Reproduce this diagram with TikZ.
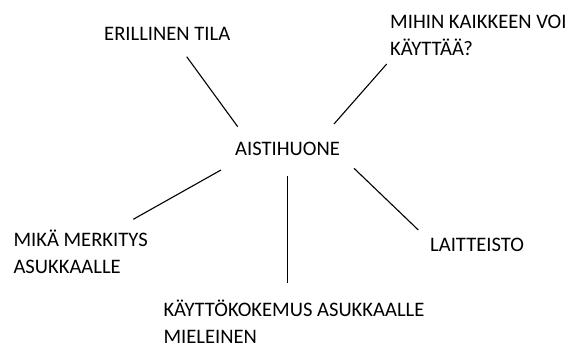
\documentclass[tikz,border=0pt]{standalone}
\usepackage{fontspec}
\setmainfont{Carlito}
\begin{document}
\begin{tikzpicture}[x=1pt,y=-1pt] % оси в пикселях, y вниз
\tikzstyle{mytext} = [inner sep=0pt, anchor=base west, align=left, font=\fontsize{20.6}{26.8}\selectfont] % text style, base = last line
\tikzstyle{myline} = [line width=1.1pt] % connector style
\useasboundingbox (0,0) rectangle (570,344); % поля как в оригинале
\node[mytext] (aisti) at (235,156) {AISTIHUONE}; % центр
\node[mytext] (tila) at (104,40.7) {ERILLINEN TILA};
\node[mytext] (mihin) at (390,55.4) {MIHIN KAIKKEEN VOI\\KÄYTTÄÄ?};
\node[mytext] (merkitys) at (13.3,273.3) {MIKÄ MERKITYS\\ASUKKAALLE};
\node[mytext] (kokemus) at (163.3,343.4) {KÄYTTÖKOKEMUS ASUKKAALLE\\MIELEINEN};
\node[mytext] (laitteisto) at (430,251.7) {LAITTEISTO};
% концы линий
\coordinate (a1) at (237.7,126.7); \coordinate (t1) at (186.7,56.7);
\coordinate (a2) at (334,124);     \coordinate (m1) at (386.7,64);
\coordinate (a3) at (221,170);     \coordinate (k1) at (133.3,219.3);
\coordinate (a4) at (287.7,176);   \coordinate (e1) at (287.7,283);
\coordinate (a5) at (354,168.3);   \coordinate (l1) at (418.3,230);
\draw[myline] (a1) -- (t1);
\draw[myline] (a2) -- (m1);
\draw[myline] (a3) -- (k1);
\draw[myline] (a4) -- (e1);
\draw[myline] (a5) -- (l1);
\end{tikzpicture}
\end{document}
